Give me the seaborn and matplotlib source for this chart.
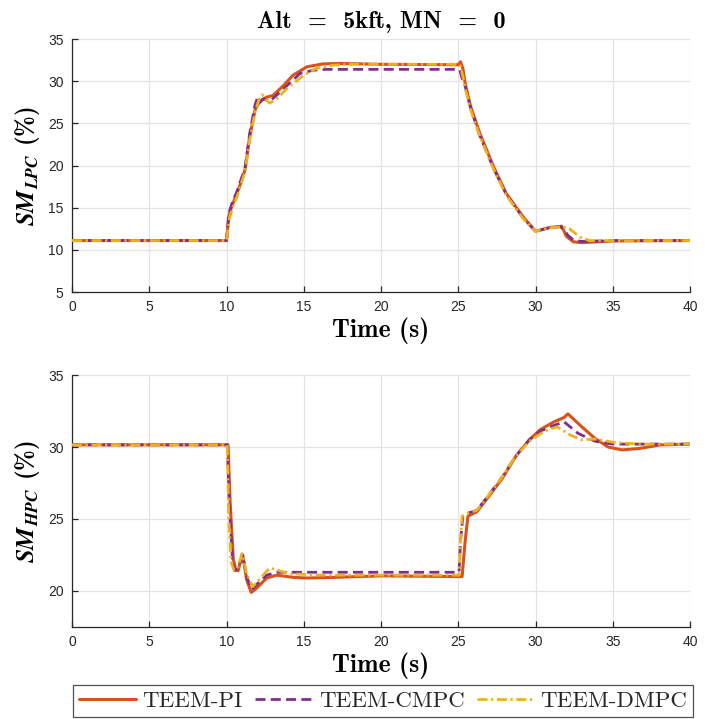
import numpy as np
import pandas as pd
import matplotlib
matplotlib.use("Agg")
import matplotlib.pyplot as plt
import seaborn as sns

# ---------------- data ----------------
series_names = ["TEEM-PI", "TEEM-CMPC", "TEEM-DMPC"]
series_colors = ["#D95319", "#7E2F8E", "#EDB120"]
x_ticks = [0, 5, 10, 15, 20, 25, 30, 35, 40]

# LPC surge margin (%)
lpc_pi_t = [0, 10.0, 10.15, 10.35, 10.65, 10.9, 11.2, 11.5, 11.85, 12.05, 12.3, 12.6, 13.0, 13.3, 13.7,
            14.3, 15.2, 16.25, 17.3, 20, 25.0, 25.15, 25.3, 25.45, 25.8, 26.4, 27.3, 28.1, 29.2, 30.0,
            30.9, 31.7, 32.0, 32.45, 33.0, 34.0, 35.0, 40]
lpc_pi_v = [11.1, 11.1, 14.0, 15.2, 16.6, 17.8, 19.5, 23.4, 26.6, 27.3, 27.8, 28.1, 28.3, 28.8, 29.5,
            30.7, 31.7, 32.05, 32.1, 32.0, 31.95, 32.3, 31.5, 29.7, 27.0, 23.8, 19.8, 16.7, 13.9, 12.2,
            12.65, 12.8, 11.6, 10.95, 10.85, 10.95, 11.05, 11.1]
lpc_cmpc_t = [0, 10.0, 10.15, 10.35, 10.65, 11.2, 11.5, 11.85, 12.0, 12.15, 12.4, 12.8, 13.7, 14.75,
              15.6, 16.5, 20, 25.0, 25.1, 25.3, 25.45, 25.8, 26.4, 27.3, 28.1, 29.2, 30.0, 30.9, 31.6,
              31.9, 32.1, 32.5, 33.0, 35, 40]
lpc_cmpc_v = [11.1, 11.1, 14.3, 15.5, 16.8, 19.7, 23.8, 27.2, 28.0, 27.5, 27.9, 27.6, 29.1, 30.9,
              31.3, 31.4, 31.4, 31.4, 31.3, 30.0, 29.4, 26.8, 23.5, 19.6, 16.6, 13.8, 12.2, 12.6, 12.75,
              12.3, 11.7, 11.1, 11.0, 11.1, 11.1]
lpc_dmpc_t = [0, 10.0, 10.2, 10.4, 10.7, 11.2, 11.5, 11.85, 12.1, 12.3, 12.55, 12.8, 13.3, 13.9, 15.0,
              15.8, 16.9, 18, 25.0, 25.15, 25.3, 25.5, 25.8, 26.4, 27.3, 28.1, 29.2, 30.0, 30.9, 31.7,
              32.2, 32.9, 33.5, 35, 40]
lpc_dmpc_v = [11.1, 11.1, 13.8, 15.0, 16.4, 19.3, 23.0, 26.4, 27.8, 28.4, 27.8, 27.4, 28.0, 29.1, 30.7,
              31.5, 31.9, 32.0, 32.0, 31.8, 30.5, 28.8, 26.6, 23.5, 19.5, 16.5, 13.7, 12.2, 12.6, 12.75,
              12.5, 11.5, 11.1, 11.1, 11.1]

# HPC surge margin (%)
hpc_pi_t = [0, 10.1, 10.23, 10.44, 10.6, 10.75, 10.87, 11.05, 11.3, 11.6, 11.95, 12.6, 13.25, 14.3,
            15.2, 17, 20, 25.15, 25.25, 25.45, 25.63, 26.2, 27.0, 27.9, 28.75, 29.6, 30.3, 31.2, 31.85,
            32.1, 33.0, 33.85, 34.7, 35.6, 36.75, 38.1, 40]
hpc_pi_v = [30.15, 30.15, 26.3, 22.2, 21.5, 21.4, 21.9, 22.5, 20.8, 19.9, 20.2, 20.9, 21.1, 20.95,
            20.9, 20.95, 21.05, 21.0, 21.0, 23.5, 25.2, 25.5, 26.6, 27.9, 29.4, 30.5, 31.2, 31.75, 32.05,
            32.3, 31.4, 30.6, 30.0, 29.8, 29.9, 30.15, 30.2]
hpc_cmpc_t = [0, 10.05, 10.2, 10.4, 10.55, 10.75, 11.05, 11.3, 11.63, 12.0, 12.6, 13.25, 14, 25.05,
              25.15, 25.3, 25.6, 26.2, 27.0, 27.9, 28.75, 29.6, 30.3, 31.2, 31.85, 32.75, 33.85, 35, 40]
hpc_cmpc_v = [30.15, 30.15, 25.5, 22.0, 21.4, 21.6, 22.5, 21.0, 20.1, 20.5, 21.1, 21.3, 21.3, 21.3,
              23.5, 25.2, 25.4, 25.6, 26.7, 28.0, 29.4, 30.5, 31.1, 31.5, 31.75, 30.95, 30.4, 30.2, 30.2]
hpc_dmpc_t = [0, 10.05, 10.15, 10.3, 10.5, 10.75, 11.0, 11.3, 11.7, 12.2, 12.8, 14.1, 16, 25.05, 25.12,
              25.25, 25.6, 26.2, 27.0, 27.9, 28.75, 29.6, 30.3, 30.8, 31.4, 32.3, 33.0, 33.85, 35.2, 37, 40]
hpc_dmpc_v = [30.15, 30.15, 25.0, 22.0, 21.4, 21.7, 22.6, 21.2, 20.3, 20.9, 21.6, 21.2, 21.1, 21.1, 23.0,
              25.2, 25.4, 25.6, 26.7, 28.0, 29.4, 30.4, 30.9, 31.2, 31.4, 30.8, 30.5, 30.55, 30.3, 30.2, 30.2]

lpc_yticks = [5, 10, 15, 20, 25, 30, 35]
hpc_yticks = [20, 25, 30, 35]

# ---------------- style ----------------
sns.set_theme(style="ticks")
plt.rcParams["mathtext.fontset"] = "cm"
plt.rcParams["axes.unicode_minus"] = False
plt.rcParams["font.family"] = ["Liberation Sans", "DejaVu Sans"]

AX_COL = "#262626"
GRID_COL = "#e3e3e3"
styles = [
    dict(lw=2.2, linestyle="-"),
    dict(lw=2.0, linestyle=(0, (3.6, 1.9))),
    dict(lw=2.0, linestyle=(0, (3.6, 1.3, 0.8, 1.3))),
]

W, H = 727, 719
fig = plt.figure(figsize=(W / 100, H / 100), dpi=100)
ax1 = fig.add_axes([72 / W, 1 - 292 / H, 618 / W, 253 / H])
ax2 = fig.add_axes([72 / W, 1 - 627 / H, 618 / W, 252 / H])

def make_df(ts, vs):
    frames = []
    for name, t, v in zip(series_names, ts, vs):
        frames.append(pd.DataFrame({"t": t, "v": v, "s": name}))
    return pd.concat(frames, ignore_index=True)

panels = [
    (ax1, make_df([lpc_pi_t, lpc_cmpc_t, lpc_dmpc_t], [lpc_pi_v, lpc_cmpc_v, lpc_dmpc_v]),
     (5, 35), lpc_yticks, r"$\mathbfit{SM}_{\mathbfit{LPC}}$ (%)"),
    (ax2, make_df([hpc_pi_t, hpc_cmpc_t, hpc_dmpc_t], [hpc_pi_v, hpc_cmpc_v, hpc_dmpc_v]),
     (17.5, 35), hpc_yticks, r"$\mathbfit{SM}_{\mathbfit{HPC}}$ (%)"),
]

for ax, df, ylim, yt, ylab in panels:
    for i, name in enumerate(series_names):
        sub = df[df["s"] == name]
        sns.lineplot(data=sub, x="t", y="v", ax=ax, color=series_colors[i], estimator=None,
                     sort=False, label=name, legend=False, zorder=3 + i, **styles[i])
    ax.set_xlim(0, 40)
    ax.set_ylim(*ylim)
    ax.set_xticks(x_ticks)
    ax.set_yticks(yt)
    ax.grid(True, color=GRID_COL, lw=0.9)
    ax.set_axisbelow(True)
    for sp in ["top", "right"]:
        ax.spines[sp].set_visible(False)
    for sp in ["left", "bottom"]:
        ax.spines[sp].set_color(AX_COL)
        ax.spines[sp].set_linewidth(0.9)
    ax.tick_params(direction="in", length=4, width=0.9, color=AX_COL, labelcolor=AX_COL,
                   labelsize=10, pad=6)
    ax.set_xlabel("Time (s)", fontfamily="cmb10", fontsize=18.5, labelpad=2, color="black")
    ax.set_ylabel(ylab, fontfamily="cmb10", fontsize=18, labelpad=4, color="black")

ax1.set_title("Alt  =  5kft, MN  =  0", fontfamily="cmb10", fontsize=17.5, pad=8, color="black")

handles, labels = ax1.get_legend_handles_labels()
leg = fig.legend(handles, labels, loc="upper center", ncol=3,
                 bbox_to_anchor=(383 / W, 1 - 685 / H),
                 prop={"family": "cmr10", "size": 16.5}, frameon=True, fancybox=False,
                 edgecolor=AX_COL, handlelength=2.5, handletextpad=0.27, columnspacing=0.55,
                 borderpad=0.25, borderaxespad=0)
leg.get_frame().set_linewidth(0.9)

fig.savefig("out.png", dpi=100)
